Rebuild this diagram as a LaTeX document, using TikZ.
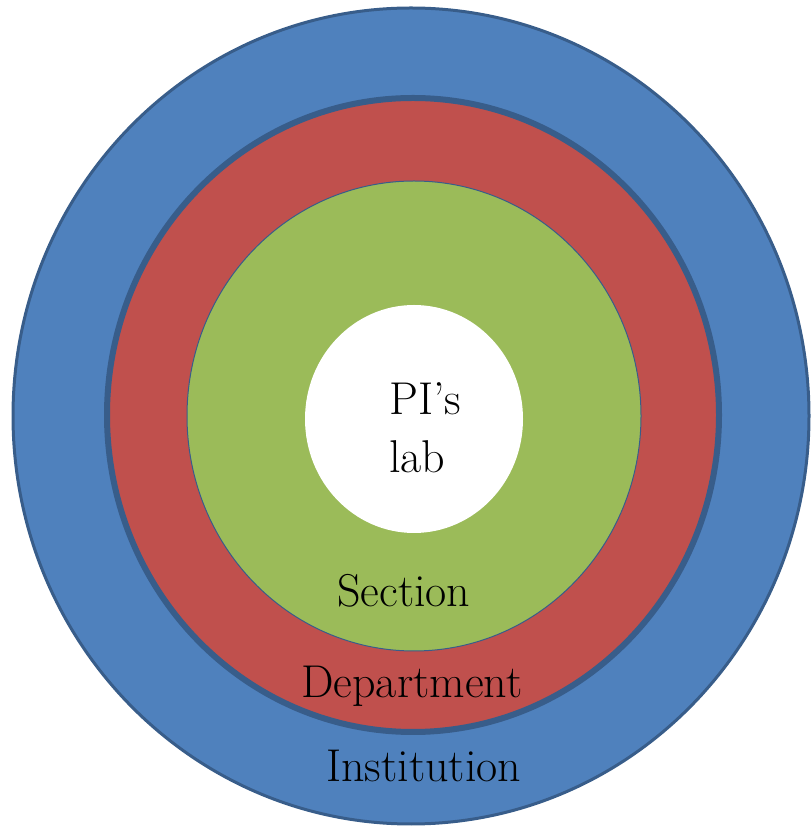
\documentclass[tikz,border=0pt]{standalone}
\usepackage{tikz}
\definecolor{ringblue}{HTML}{4F81BD}
\definecolor{ringred}{HTML}{C0504D}
\definecolor{ringgreen}{HTML}{9BBB59}
\definecolor{ringedge}{HTML}{385D8A}

\begin{document}
\begin{tikzpicture}[x=1pt, y=1pt,
    label/.style = {anchor=base west, inner sep=0pt, font=\fontsize{46}{58}\selectfont}]
                \useasboundingbox (0,0) rectangle (811,827);
                \filldraw[fill=ringblue, draw=ringedge, line width=3pt] (411,411) ellipse (398 and 408);
                \filldraw[fill=ringred, draw=ringedge, line width=6pt] (413,412) ellipse (306 and 317);
                \filldraw[fill=ringgreen, draw=ringedge, line width=1pt] (414,411) ellipse (227 and 235);
                \fill[white] (414,408) ellipse (109 and 114);
                \node[label] (pi) at (389,412) {PI’s};
                \node[label] (lab) at (389,354) {lab};
                \node[label] (section) at (337,220) {Section};
                \node[label] (department) at (301,129) {Department};
                \node[label] (institution) at (326,45) {Institution};
            \end{tikzpicture}
\end{document}
